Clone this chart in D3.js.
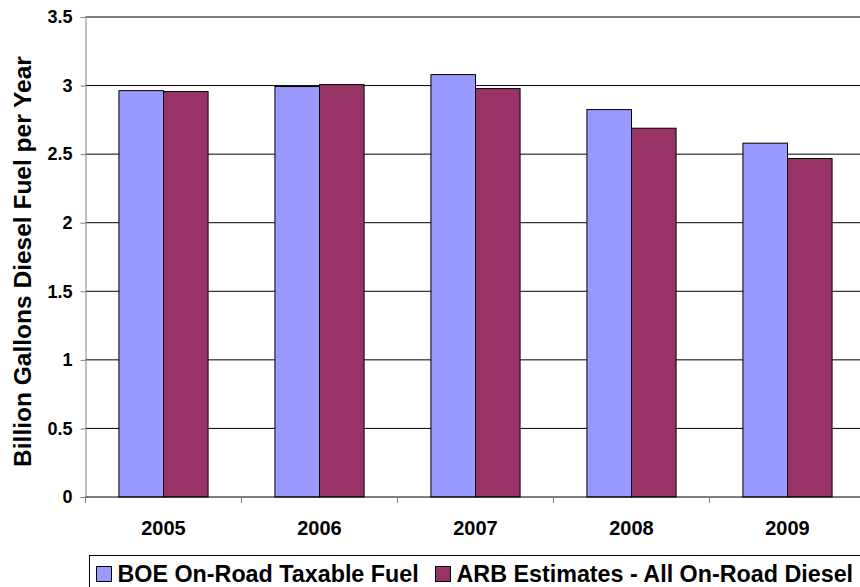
<!DOCTYPE html>
<html>
<head>
<meta charset="utf-8">
<script src="https://cdn.jsdelivr.net/npm/d3@7"></script>
<style>
  html, body { margin: 0; padding: 0; background: #fff; }
  svg { display: block; }
  svg text { font-family: Arial, "Liberation Sans", Helvetica, sans-serif; font-weight: 700; fill: #000; }
</style>
</head>
<body>
<svg id="chart" width="860" height="587"></svg>
<script>
// Years on the category axis
const years = ["2005", "2006", "2007", "2008", "2009"];
// Series names, in legend order
const seriesNames = ["BOE On-Road Taxable Fuel", "ARB Estimates - All On-Road Diesel"];
// Billion gallons of diesel per year
const boeValues = [2.963, 2.993, 3.080, 2.825, 2.580];
const arbValues = [2.956, 3.007, 2.978, 2.689, 2.468];
// Value-axis ticks
const yTicks = [0, 0.5, 1, 1.5, 2, 2.5, 3, 3.5];
const yTitle = "Billion Gallons Diesel Fuel per Year";
const colors = ["#9999FF", "#993366"];

const svg = d3.select("#chart");
const plot = { left: 85.5, right: 865.5, top: 17, bottom: 497 };

const y = d3.scaleLinear().domain([0, 3.5]).range([plot.bottom, plot.top]);
const x0 = d3.scaleBand().domain(years).range([plot.left, plot.right]).padding(0);
const x1 = d3.scaleBand().domain(seriesNames).range([0, x0.bandwidth()])
  .paddingInner(0).paddingOuter(0.75);

// Horizontal gridlines
svg.append("g").selectAll("line").data(yTicks.filter(d => d > 0)).join("line")
  .attr("x1", plot.left).attr("x2", plot.right)
  .attr("y1", d => y(d)).attr("y2", d => y(d))
  .attr("stroke", "#000").attr("stroke-width", 1);

// Bars
const rows = years.map((yr, i) => ({ year: yr, values: [boeValues[i], arbValues[i]] }));
svg.append("g").selectAll("g").data(rows).join("g")
  .attr("transform", d => `translate(${x0(d.year)},0)`)
  .selectAll("rect").data(d => d.values.map((v, k) => ({ name: seriesNames[k], v, k }))).join("rect")
  .attr("x", d => x1(d.name)).attr("width", x1.bandwidth())
  .attr("y", d => y(d.v)).attr("height", d => y(0) - y(d.v))
  .attr("fill", d => colors[d.k]).attr("stroke", "#000").attr("stroke-width", 1);

// Value axis
const yAxis = svg.append("g").attr("transform", `translate(${plot.left},0)`)
  .call(d3.axisLeft(y).tickValues(yTicks).tickFormat(d3.format("~g")).tickSize(5).tickPadding(8));
yAxis.attr("font-family", null).attr("font-size", null);
yAxis.select(".domain").attr("stroke", "#808080");
yAxis.selectAll(".tick line").attr("stroke", "#808080");
yAxis.selectAll("text").style("font-size", "18px").attr("fill", "#000");

// Category axis: ticks at category boundaries, labels centred
const bx = svg.append("g").attr("transform", `translate(0,${plot.bottom})`);
bx.append("line").attr("x1", plot.left).attr("x2", plot.right).attr("stroke", "#000");
const bounds = years.map(d => x0(d)).concat([x0(years[years.length - 1]) + x0.bandwidth()]);
bx.selectAll(".tk").data(bounds).join("line").attr("class", "tk")
  .attr("x1", d => d).attr("x2", d => d).attr("y1", 0).attr("y2", 6)
  .attr("stroke", "#808080");
bx.selectAll("text").data(years).join("text")
  .attr("x", d => x0(d) + x0.bandwidth() / 2).attr("y", 38)
  .attr("text-anchor", "middle").style("font-size", "20px").text(d => d);

// Axis title
svg.append("text").attr("transform", "translate(31,261.5) rotate(-90)")
  .attr("text-anchor", "middle").style("font-size", "24.5px").text(yTitle);

// Legend
const lg = svg.append("g");
lg.append("rect").attr("x", 89.5).attr("y", 555.5).attr("width", 800).attr("height", 60)
  .attr("fill", "#fff").attr("stroke", "#000");
const legendX = [96.5, 435.5];
const items = lg.selectAll("g.item").data(seriesNames).join("g").attr("class", "item")
  .attr("transform", (d, i) => `translate(${legendX[i]},0)`);
items.append("rect").attr("x", 0).attr("y", 566.5).attr("width", 15).attr("height", 15)
  .attr("fill", (d, i) => colors[i]).attr("stroke", "#000");
items.append("text").attr("x", 21).attr("y", 582).style("font-size", "23.3px").text(d => d);
</script>
</body>
</html>
